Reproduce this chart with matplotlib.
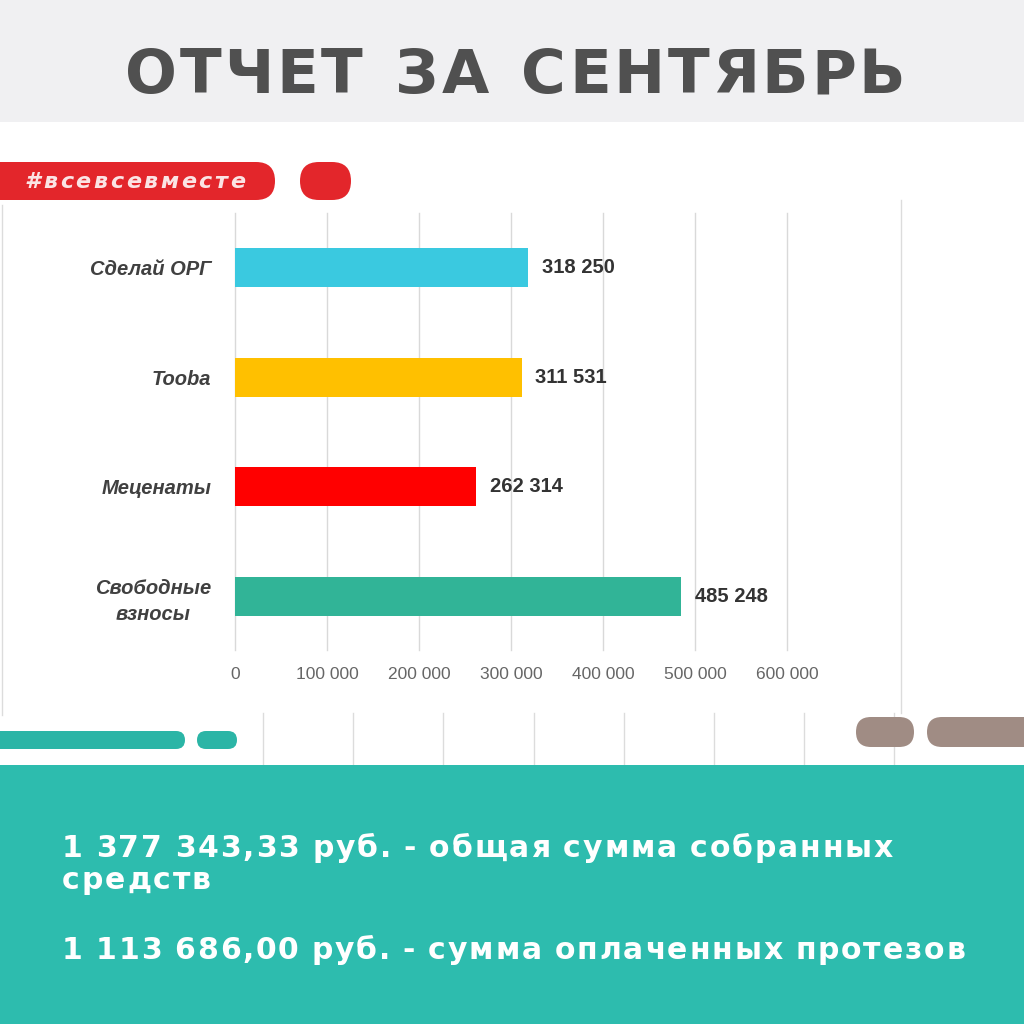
import matplotlib
matplotlib.use("Agg")
import matplotlib.pyplot as plt
from matplotlib.patches import FancyBboxPatch, Rectangle
from matplotlib.ticker import FuncFormatter

# данные
categories = ["Сделай ОРГ", "Tooba", "Меценаты", "Свободные\nвзносы"]
values = [318250, 311531, 262314, 485248]
bar_colors = ["#3ac9e0", "#ffc000", "#ff0000", "#31b497"]
x_ticks = [0, 100000, 200000, 300000, 400000, 500000, 600000]

title = "ОТЧЕТ ЗА СЕНТЯБРЬ"
hashtag = "#всевсевместе"
summary_lines = [
    "1 377 343,33 руб. - общая сумма собранных",
    "средств",
    "1 113 686,00 руб. - сумма оплаченных протезов",
]

W = H = 1024
fig = plt.figure(figsize=(10.24, 10.24), dpi=100)
fig.patch.set_facecolor("white")

# фон в пиксельных координатах
bg = fig.add_axes([0, 0, 1, 1])
bg.set_xlim(0, W)
bg.set_ylim(H, 0)
bg.axis("off")
renderer = fig.canvas.get_renderer()


def pill(x0, y0, x1, y1, color):
    h = y1 - y0
    p = FancyBboxPatch((x0, y0), x1 - x0, h,
                       boxstyle=f"round,pad=0,rounding_size={h / 2}",
                       fc=color, ec="none", zorder=2)
    bg.add_patch(p)


def glyph_widths(s, **kw):
    ws = []
    for ch in s:
        if ch == " ":
            ws.append(0)
            continue
        t = bg.text(0, 0, ch, **kw)
        ws.append(t.get_window_extent(renderer).width)
        t.remove()
    return ws


def fit_gap(s, target, word, **kw):
    ws = glyph_widths(s, **kw)
    n_glyph = sum(1 for c in s if c != " ")
    n_space = s.count(" ")
    return (target - sum(ws) - n_space * word) / (n_glyph - 1)


def tracked(x, y, s, gap, word, **kw):
    ws = glyph_widths(s, **kw)
    for ch, w in zip(s, ws):
        if ch == " ":
            x += word
            continue
        bg.text(x, y, ch, ha="left", va="baseline", zorder=5, **kw)
        x += w + gap


# верхняя полоса с заголовком
bg.add_patch(Rectangle((0, 0), W, 122, fc="#f0f0f2", ec="none", zorder=1))
title_kw = dict(fontsize=44, fontweight="bold", color="#505050", family="DejaVu Sans")
g = fit_gap(title, 905 - 125, 30, **title_kw)
tracked(125, 93, title, g, 30, **title_kw)

# декоративные линии
line_c = "#dcdcdc"
bg.plot([901, 901], [200, 713], color=line_c, lw=1, zorder=1)
bg.plot([2, 2], [205, 715], color=line_c, lw=1, zorder=1)
for xl in [263, 353, 443, 534, 624, 714, 804, 894]:
    bg.plot([xl, xl], [713, 765], color=line_c, lw=1, zorder=1)

# красная плашка с хештегом
pill(-30, 162, 275, 200, "#e3262b")
pill(300, 162, 351, 200, "#e3262b")
hash_kw = dict(fontsize=16, style="italic", fontweight="bold", color="#fbe4e4",
               family="DejaVu Sans")
g = fit_gap(hashtag, 245 - 25, 0, **hash_kw)
tracked(25, 188, hashtag, g, 0, **hash_kw)

# плашки внизу
pill(-30, 731, 185, 749, "#2bb5a6")
pill(197, 731, 237, 749, "#2bb5a6")
pill(856, 717, 914, 747, "#a08c84")
pill(927, 717, 1060, 747, "#a08c84")

# бирюзовая полоса с итогами
bg.add_patch(Rectangle((0, 765), W, H - 765, fc="#2dbcae", ec="none", zorder=1))
sum_kw = dict(fontsize=21.5, fontweight="bold", color="white", family="DejaVu Sans")
g1 = fit_gap(summary_lines[0], 893 - 62, 11, **sum_kw)
tracked(62, 857, summary_lines[0], g1, 11, **sum_kw)
tracked(62, 889, summary_lines[1], g1, 11, **sum_kw)
g3 = fit_gap(summary_lines[2], 965 - 62, 11, **sum_kw)
tracked(62, 959, summary_lines[2], g3, 11, **sum_kw)

# график
ax = fig.add_axes([235 / W, 1 - 650 / H, 552 / W, 437 / H])
ax.patch.set_alpha(0)
pos = list(range(len(categories)))
ax.barh(pos, values, height=0.356, color=bar_colors, zorder=3)
ax.set_xlim(0, 600000)
ax.set_ylim(3.49, -0.5)
ax.set_xticks(x_ticks)
ax.xaxis.set_major_formatter(FuncFormatter(lambda v, p: f"{int(v):,}".replace(",", " ")))
ax.set_yticks(pos)
ax.set_yticklabels(categories, fontsize=14.5, fontweight="bold", style="italic",
                   color="#404040", family=["Liberation Sans", "DejaVu Sans"],
                   linespacing=1.45)
for lab in ax.get_yticklabels():
    lab.set_multialignment("center")
ax.tick_params(axis="y", length=0, pad=17)
ax.tick_params(axis="x", length=0, pad=12, labelsize=12.5, labelcolor="#666666")
for lab in ax.get_xticklabels():
    lab.set_family(["Liberation Sans", "DejaVu Sans"])
ax.grid(axis="x", color="#d9d9d9", lw=1, zorder=0)
for gl in ax.get_xgridlines():
    gl.set_clip_on(False)
for s in ax.spines.values():
    s.set_visible(False)

for i, v in enumerate(values):
    ax.annotate(f"{v:,}".replace(",", " "), (v, i), xytext=(10, 0),
                textcoords="offset points", va="center", ha="left",
                fontsize=14.5, fontweight="bold", color="#333333",
                family=["Liberation Sans", "DejaVu Sans"])

fig.savefig("out.png", dpi=100)
